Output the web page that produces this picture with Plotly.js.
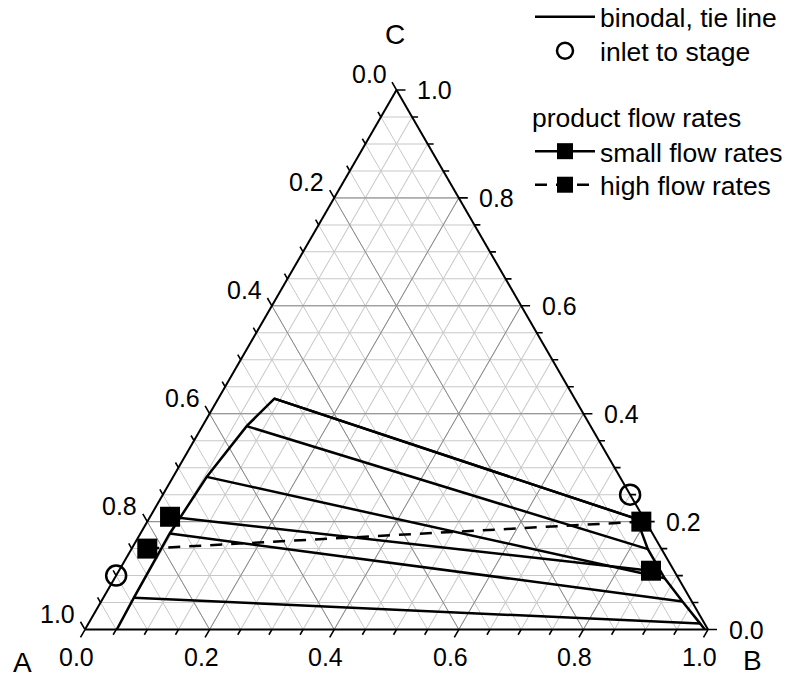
<!DOCTYPE html>
<html><head><meta charset="utf-8">
<script src="https://cdn.plot.ly/plotly-3.0.1.min.js"></script>
<style>html,body{margin:0;padding:0;background:#fff}#chart{width:789px;height:679px}</style>
</head><body><div id="chart"></div>
<script>
// Mass fractions of components A, B, C
// Binodal curve: left branch (A-rich) then right branch (B-rich)
const binodalA = [0.949, 0.892, 0.775, 0.663, 0.552, 0.482, 0.012, 0.022, 0.022, 0.015, 0.007, 0.005];
const binodalB = [0.051, 0.049, 0.047, 0.054, 0.071, 0.090, 0.783, 0.829, 0.883, 0.933, 0.982, 0.995];
const binodalC = [0.000, 0.059, 0.178, 0.283, 0.377, 0.428, 0.205, 0.149, 0.095, 0.052, 0.011, 0.000];

// Tie lines: left end (A-rich phase) and right end (B-rich phase)
const tieLeftA  = [0.482, 0.552, 0.663, 0.775, 0.892];
const tieLeftB  = [0.090, 0.071, 0.054, 0.047, 0.049];
const tieLeftC  = [0.428, 0.377, 0.283, 0.178, 0.059];
const tieRightA = [0.012, 0.022, 0.022, 0.015, 0.007];
const tieRightB = [0.783, 0.829, 0.883, 0.933, 0.982];
const tieRightC = [0.205, 0.149, 0.095, 0.052, 0.011];

// Inlet to stage
const inletA = [0.90, 0.00];
const inletB = [0.00, 0.75];
const inletC = [0.10, 0.25];

// Product compositions
const smallA = [0.759, 0.037];
const smallB = [0.032, 0.854];
const smallC = [0.209, 0.109];
const highA  = [0.825, 0.007];
const highB  = [0.025, 0.793];
const highC  = [0.150, 0.200];

// Axis ticks / grid
const tickVals = [0,0.05,0.1,0.15,0.2,0.25,0.3,0.35,0.4,0.45,0.5,0.55,0.6,0.65,0.7,0.75,0.8,0.85,0.9,0.95,1];
const labelVals = [0, 0.2, 0.4, 0.6, 0.8, 1.0];
const labelText = ['0.0', '0.2', '0.4', '0.6', '0.8', '1.0'];
const majorGrid = [0.2, 0.4, 0.6, 0.8];

// ---- geometry of the ternary plot area (pixels) ----
const PW = 789, PH = 679;
const X0 = 85, YTOP = 90, W = 623, H = W * Math.sqrt(3) / 2, YB = YTOP + H;
const S3 = Math.sqrt(3) / 2;
const px = x => x / PW, py = y => 1 - y / PH;
// pixel position of an (A, B, C) composition (A bottom-left, B bottom-right, C top)
const toPix = (A, B, C) => [X0 + W * (B + C / 2), YB - H * C];

// Plotly ternary: a = top vertex (C), b = bottom-left (A), c = bottom-right (B)
function tr(A, B, C, extra) {
  return Object.assign({type: 'scatterternary', a: C, b: A, c: B, cliponaxis: false, hoverinfo: 'skip'}, extra);
}

// major grid lines
const gA = [], gB = [], gC = [];
majorGrid.forEach(v => {
  gA.push(1 - v, 0, null); gB.push(0, 1 - v, null); gC.push(v, v, null);
  gA.push(v, v, null); gB.push(1 - v, 0, null); gC.push(0, 1 - v, null);
  gA.push(1 - v, 0, null); gB.push(v, v, null); gC.push(0, 1 - v, null);
});

// tie-line segments
const tA = [], tB = [], tC = [];
tieLeftA.forEach((_, i) => {
  tA.push(tieLeftA[i], tieRightA[i], null);
  tB.push(tieLeftB[i], tieRightB[i], null);
  tC.push(tieLeftC[i], tieRightC[i], null);
});

const font = 'Liberation Sans, Arial, Helvetica, sans-serif';
const lw = 2.5;

// ---- ticks (extending the grid directions outward) and tick labels ----
const minorLen = 6, majorLen = 9;
const isMajor = v => labelVals.some(m => Math.abs(m - v) < 1e-9);
let tickPath = '';
tickVals.forEach(v => {
  const L = isMajor(v) ? majorLen : minorLen;
  const seg = (p, dx, dy) => {
    tickPath += 'M' + px(p[0]) + ',' + py(p[1]) + 'L' + px(p[0] + dx * L) + ',' + py(p[1] + dy * L);
  };
  seg(toPix(1 - v, v, 0), -0.5, S3);      // bottom axis: B
  seg(toPix(v, 0, 1 - v), -0.5, -S3);     // left axis: A
  seg(toPix(0, 1 - v, v), 1, 0);          // right axis: C
});

const tickFont = {size: 25, family: font, color: 'black'};
const annotations = [];
labelVals.forEach((v, i) => {
  const add = (p, dx, dy) => annotations.push({
    text: labelText[i], x: px(p[0] + dx), y: py(p[1] + dy), xref: 'paper', yref: 'paper',
    showarrow: false, font: tickFont, xanchor: 'center', yanchor: 'middle'
  });
  add(toPix(1 - v, v, 0), -8.5, 27);      // bottom: B
  add(toPix(v, 0, 1 - v), -27.5, -16);    // left: A
  add(toPix(0, 1 - v, v), 38, 0);         // right: C
});

const annFont = {size: 28, family: font, color: 'black'};
[['C', 395, 34], ['A', 22, 662], ['B', 752, 660]].forEach(t => annotations.push({
  text: t[0], x: px(t[1]), y: py(t[2]), xref: 'paper', yref: 'paper', showarrow: false,
  font: annFont, xanchor: 'center', yanchor: 'middle'
}));

const traces = [
  tr(gA, gB, gC, {mode: 'lines', line: {color: '#8a8a8a', width: 1}, showlegend: false, connectgaps: false}),
  tr(binodalA, binodalB, binodalC, {mode: 'lines', name: 'binodal, tie line', line: {color: 'black', width: lw}, legend: 'legend'}),
  tr(tA, tB, tC, {mode: 'lines', line: {color: 'black', width: lw}, showlegend: false, connectgaps: false}),
  tr(inletA, inletB, inletC, {mode: 'markers', name: 'inlet to stage', marker: {symbol: 'circle-open', size: 20, color: 'black', line: {width: 2.5, color: 'black'}}, legend: 'legend2'}),
  tr(smallA, smallB, smallC, {mode: 'lines+markers', name: 'small flow rates', line: {color: 'black', width: lw}, marker: {symbol: 'square', size: 20, color: 'black'}, legend: 'legend3'}),
  tr(highA, highB, highC, {mode: 'lines+markers', name: 'high flow rates', line: {color: 'black', width: lw, dash: '12px,9px'}, marker: {symbol: 'square', size: 20, color: 'black'}, legend: 'legend4'})
];

function axis() {
  return {
    title: {text: ''},
    tickmode: 'array', tickvals: tickVals,
    ticks: '', showticklabels: false,
    showline: true, linecolor: 'black', linewidth: 2,
    showgrid: true, gridcolor: '#c8c8c8', gridwidth: 1, min: 0
  };
}

const legFont = {size: 26.5, family: font, color: 'black'};
function leg(topPx, extra) {
  return Object.assign({
    x: 530 / PW, y: 1 - topPx / PH, xanchor: 'left', yanchor: 'top',
    font: legFont, itemwidth: 60, bgcolor: 'rgba(0,0,0,0)', borderwidth: 0
  }, extra);
}

const layout = {
  width: PW, height: PH,
  margin: {l: 0, r: 0, t: 0, b: 0, autoexpand: false},
  paper_bgcolor: 'white',
  font: {family: font, color: 'black'},
  ternary: {
    sum: 1,
    domain: {x: [X0 / PW, (X0 + W) / PW], y: [1 - YB / PH, 1 - YTOP / PH]},
    bgcolor: 'white',
    aaxis: axis(), baxis: axis(), caxis: axis()
  },
  legend: leg(-7),
  legend2: leg(27),
  legend3: leg(93, {title: {text: 'product flow rates', font: legFont}}),
  legend4: leg(161),
  shapes: [{type: 'path', path: tickPath, xref: 'paper', yref: 'paper', line: {color: 'black', width: 1.6}}],
  annotations: annotations
};

Plotly.newPlot('chart', traces, layout, {displayModeBar: false, staticPlot: true});
</script>
</body></html>
